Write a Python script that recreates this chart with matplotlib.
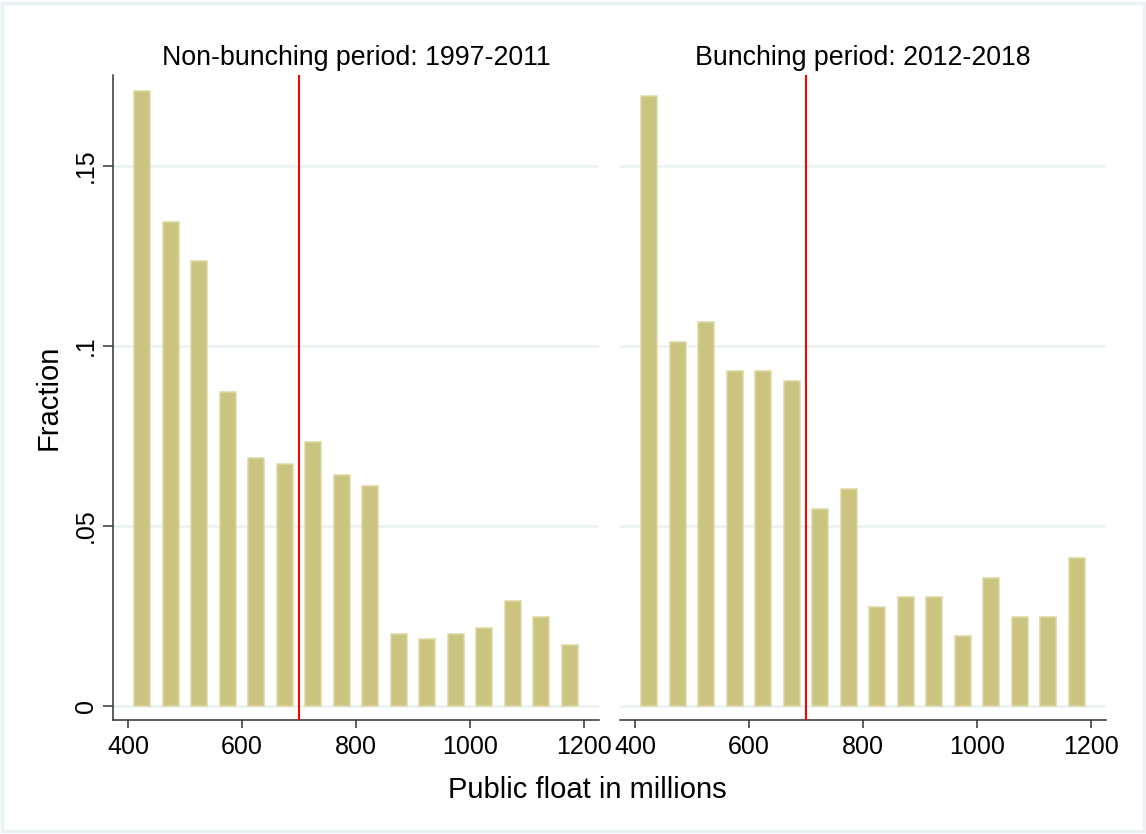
import matplotlib
matplotlib.use('Agg')
import matplotlib.pyplot as plt
from matplotlib.patches import Rectangle
import numpy as np

plt.rcParams['font.family'] = ['Liberation Sans', 'DejaVu Sans']

# bin midpoints (public float, millions)
bins = [425, 475, 525, 575, 625, 675, 725, 775, 825, 875, 925, 975, 1025, 1075, 1125, 1175]

# fractions
frac_nonbunch = [0.1708, 0.1344, 0.1236, 0.0871, 0.0689, 0.0672, 0.0733, 0.0641,
                 0.0611, 0.0200, 0.0185, 0.0200, 0.0216, 0.0292, 0.0246, 0.0169]
frac_bunch = [0.1694, 0.1010, 0.1066, 0.0930, 0.0930, 0.0903, 0.0546, 0.0602,
              0.0275, 0.0303, 0.0303, 0.0193, 0.0356, 0.0247, 0.0247, 0.0411]

titles = ['Non-bunching period: 1997-2011', 'Bunching period: 2012-2018']
threshold = 700
yticks = [0, 0.05, 0.1, 0.15]
yticklabels = ['0', '.05', '.1', '.15']
xticks = [400, 600, 800, 1000, 1200]

W, H = 1146, 834
fig = plt.figure(figsize=(W / 100, H / 100), dpi=100)
fig.patch.set_facecolor('white')
fig.add_artist(Rectangle((0.002, 0.003), 0.996, 0.994, transform=fig.transFigure,
                         fill=False, edgecolor='#eaf2f3', linewidth=2.5))

bar_fill = '#cbc480'
bar_edge = '#dcd8a4'
grid_col = '#eaf2f3'

left = fig.add_axes([113 / W, 1 - 720 / H, 486 / W, 645 / H])
right = fig.add_axes([620 / W, 1 - 720 / H, 486 / W, 645 / H])

for ax, vals, title in [(left, frac_nonbunch, titles[0]), (right, frac_bunch, titles[1])]:
    ax.set_xlim(373.7, 1226.3)
    ax.set_ylim(-0.0039, 0.1753)
    for yv in yticks:
        ax.axhline(yv, color=grid_col, lw=1.8, zorder=0)
    ax.bar(bins, vals, width=28, color=bar_fill, edgecolor=bar_edge, linewidth=1.1, zorder=2)
    ax.axvline(threshold, color='#ff0000', lw=1.5, zorder=3)
    ax.set_title(title, fontsize=19.3, pad=7)
    ax.set_xticks(xticks)
    ax.set_xticklabels([str(x) for x in xticks], fontsize=18)
    ax.tick_params(axis='x', length=6, width=1.1, color='#333333', pad=5)
    for s in ['top', 'right']:
        ax.spines[s].set_visible(False)
    ax.spines['bottom'].set_color('#333333')
    ax.spines['bottom'].set_linewidth(1.1)

left.set_yticks(yticks)
left.set_yticklabels(yticklabels, fontsize=18, rotation=90, va='center')
left.tick_params(axis='y', length=7, width=1.1, color='#333333', pad=4)
left.spines['left'].set_color('#333333')
left.spines['left'].set_linewidth(1.1)
left.set_ylabel('Fraction', fontsize=21, labelpad=8)

right.spines['left'].set_visible(False)
right.set_yticks([])

fig.text(587 / W, 1 - 790 / H, 'Public float in millions', fontsize=21, ha='center', va='center')

fig.savefig('out.png', dpi=100)
